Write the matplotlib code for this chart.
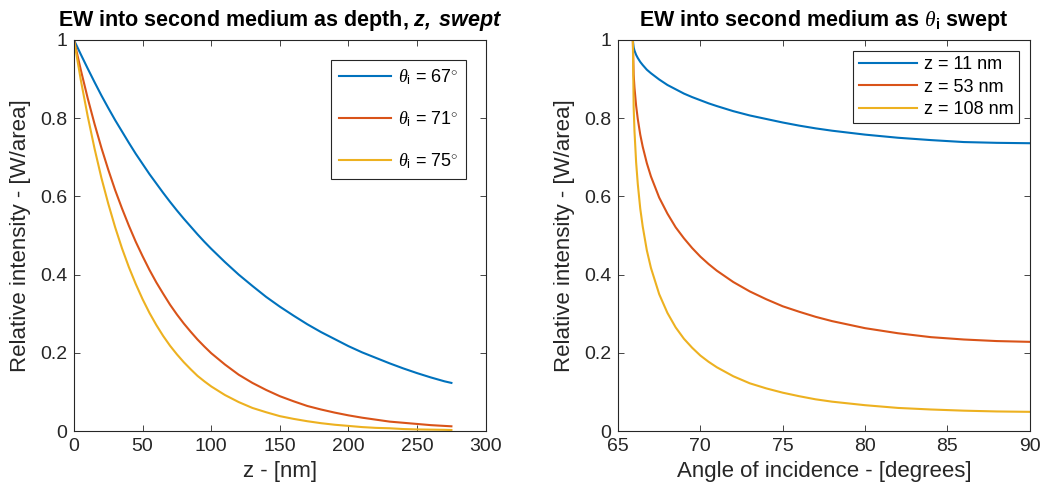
import numpy as np
import matplotlib
matplotlib.use('Agg')
import matplotlib.pyplot as plt

plt.rcParams['font.family'] = ['Liberation Sans', 'DejaVu Sans']
plt.rcParams['mathtext.fontset'] = 'custom'
plt.rcParams['mathtext.rm'] = 'Liberation Sans'
plt.rcParams['mathtext.it'] = 'Liberation Serif:italic'
plt.rcParams['mathtext.bf'] = 'Liberation Sans:bold'
plt.rcParams['mathtext.bfit'] = 'Liberation Sans:bold:italic'

# left panel: intensity vs depth z
z_nm = [0, 5, 10, 15, 20, 25, 30, 35, 40, 45, 50, 55, 60, 65, 70, 75, 80, 85, 90, 95,
        100, 110, 120, 130, 140, 150, 160, 170, 180, 190, 200, 210, 220, 230, 240,
        250, 260, 270, 275]
I_67 = [1, 0.963, 0.927, 0.892, 0.858, 0.826, 0.795, 0.766, 0.737, 0.709, 0.683,
        0.657, 0.633, 0.609, 0.586, 0.564, 0.543, 0.523, 0.503, 0.484, 0.466,
        0.432, 0.400, 0.371, 0.343, 0.318, 0.295, 0.273, 0.253, 0.235, 0.217,
        0.201, 0.187, 0.173, 0.160, 0.148, 0.137, 0.127, 0.123]
I_71 = [1, 0.923, 0.851, 0.785, 0.724, 0.668, 0.616, 0.569, 0.525, 0.484, 0.447,
        0.412, 0.380, 0.351, 0.323, 0.298, 0.275, 0.254, 0.234, 0.216, 0.199,
        0.170, 0.144, 0.123, 0.105, 0.089, 0.076, 0.064, 0.055, 0.047, 0.040,
        0.034, 0.029, 0.024, 0.021, 0.018, 0.015, 0.013, 0.012]
I_75 = [1, 0.897, 0.805, 0.722, 0.647, 0.581, 0.521, 0.467, 0.419, 0.376, 0.337,
        0.302, 0.271, 0.243, 0.218, 0.196, 0.176, 0.158, 0.141, 0.127, 0.114,
        0.092, 0.074, 0.059, 0.048, 0.038, 0.031, 0.025, 0.020, 0.016, 0.013,
        0.010, 0.008, 0.007, 0.005, 0.004, 0.0035, 0.003, 0.0025]
left_labels = [r'$\theta_{\rm i}$ = 67$^{\circ}$', r'$\theta_{\rm i}$ = 71$^{\circ}$',
               r'$\theta_{\rm i}$ = 75$^{\circ}$']

# right panel: intensity vs angle of incidence
theta = [65.9, 65.95, 66.0, 66.1, 66.2, 66.35, 66.5, 66.75, 67, 67.5, 68, 68.5, 69,
         69.5, 70, 70.5, 71, 72, 73, 74, 75, 76, 77, 78, 80, 82, 84, 86, 88, 90]
I_11 = [1, 0.981, 0.973, 0.962, 0.954, 0.944, 0.936, 0.924, 0.915, 0.899, 0.885,
        0.874, 0.863, 0.854, 0.846, 0.838, 0.831, 0.818, 0.807, 0.798, 0.789,
        0.781, 0.774, 0.768, 0.758, 0.750, 0.744, 0.739, 0.737, 0.736]
I_53 = [1, 0.911, 0.878, 0.832, 0.798, 0.758, 0.727, 0.685, 0.651, 0.597, 0.556,
        0.521, 0.493, 0.468, 0.446, 0.427, 0.410, 0.381, 0.357, 0.337, 0.319,
        0.305, 0.292, 0.281, 0.263, 0.250, 0.240, 0.234, 0.230, 0.228]
I_108 = [1, 0.828, 0.767, 0.687, 0.632, 0.569, 0.523, 0.462, 0.417, 0.350, 0.302,
         0.265, 0.236, 0.213, 0.193, 0.177, 0.163, 0.140, 0.122, 0.109, 0.098,
         0.089, 0.081, 0.075, 0.066, 0.059, 0.055, 0.052, 0.050, 0.049]
right_labels = ['z = 11 nm', 'z = 53 nm', 'z = 108 nm']

colors = ['#0072BD', '#D95319', '#EDB120']
axc = '#262626'

fig = plt.figure(figsize=(10.45, 5), dpi=100)
ax1 = fig.add_axes([0.0708, 0.138, 0.394, 0.782])
ax2 = fig.add_axes([0.5914, 0.138, 0.394, 0.782])

for y, c, lab in zip([I_67, I_71, I_75], colors, left_labels):
    ax1.plot(z_nm, y, color=c, lw=1.5, label=lab)
for y, c, lab in zip([I_11, I_53, I_108], colors, right_labels):
    ax2.plot(theta, y, color=c, lw=1.5, label=lab)

ax1.set_xlim(0, 300)
ax1.set_xticks(np.arange(0, 301, 50))
ax2.set_xlim(65, 90)
ax2.set_xticks(np.arange(65, 91, 5))

for ax in (ax1, ax2):
    ax.set_ylim(0, 1)
    ax.set_yticks([0, 0.2, 0.4, 0.6, 0.8, 1])
    ax.set_yticklabels(['0', '0.2', '0.4', '0.6', '0.8', '1'])
    ax.tick_params(direction='in', top=True, right=True, length=4, width=0.6,
                   colors=axc, labelsize=14, pad=5)
    for s in ax.spines.values():
        s.set_color(axc)
        s.set_linewidth(0.8)
    ax.set_ylabel('Relative intensity - [W/area]', fontsize=16, color=axc, labelpad=6)

ax1.set_xlabel('z - [nm]', fontsize=16, color=axc, labelpad=4)
ax2.set_xlabel('Angle of incidence - [degrees]', fontsize=16, color=axc, labelpad=4)
ax1.set_title(r'EW into second medium as depth, $\mathbfit{z,\ swept}$',
              fontsize=15.5, fontweight='bold', pad=10)
ax2.set_title(r'EW into second medium as $\theta_{\mathbf{i}}$ swept',
              fontsize=15.5, fontweight='bold', pad=10)

leg1 = ax1.legend(loc='upper right', fontsize=13, fancybox=False, edgecolor=axc,
                  framealpha=1, handlelength=2.9, handletextpad=0.4,
                  labelspacing=1.25, borderaxespad=1.1)
leg2 = ax2.legend(loc='upper right', fontsize=13, fancybox=False, edgecolor=axc,
                  framealpha=1, handlelength=3.2, handletextpad=0.4,
                  labelspacing=0.3, borderpad=0.3, borderaxespad=0.6)
for leg in (leg1, leg2):
    leg.get_frame().set_linewidth(0.8)

fig.savefig('out.png', dpi=100)
